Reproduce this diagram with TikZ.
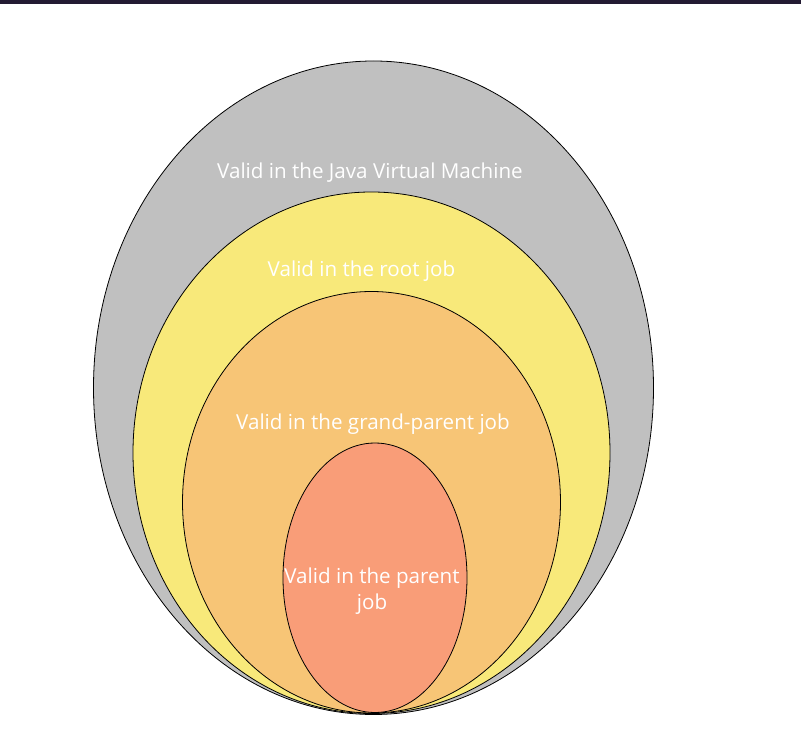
\documentclass[tikz,border=0pt]{standalone}
\usepackage{fontspec}
\setmainfont{Open Sans}
\usepackage{tikz}
\usetikzlibrary{shapes.geometric,positioning}
\definecolor{jvmgray}{RGB}{192,192,192}
\definecolor{rootyellow}{RGB}{248,233,122}
\definecolor{grandorange}{RGB}{247,197,118}
\definecolor{parentsalmon}{RGB}{249,157,120}
\definecolor{topbar}{RGB}{35,26,50}

\begin{document}
\begin{tikzpicture}[x=1pt,y=1pt,% 1pt per pixel of the screenshot
					every node/.style={
						align=center,  		% so that "\\" breaks the line
						text=white,
						font=\fontsize{20.6}{26}\selectfont
						},
					ring/.style={ellipse,draw=black,line width=0.8pt,inner sep=0pt}
					]
\useasboundingbox (0,0) rectangle (801,-743);
\fill[topbar] (0,0) rectangle (801,-4);
% nested scopes, outermost first
\node[ring,fill=jvmgray,minimum width=560pt,minimum height=653.5pt](E1) at (373.5,-387.75){};
\node[ring,fill=rootyellow,minimum width=477pt,minimum height=521.5pt](E2) at (371.5,-452.75){};
\node[ring,fill=grandorange,minimum width=378pt,minimum height=421.5pt](E3) at (371.5,-502.25){};
\node[ring,fill=parentsalmon,minimum width=184pt,minimum height=269.5pt](E4) at (375,-577.75){};
% labels
\node(L1) at (370,-173){Valid in the Java Virtual Machine};
\node(L2) at (361.5,-271){Valid in the root job};
\node(L3) at (373,-424){Valid in the grand-parent job};
\node(L4) at (372,-591){Valid in the parent\\ job};
\end{tikzpicture}
\end{document}
